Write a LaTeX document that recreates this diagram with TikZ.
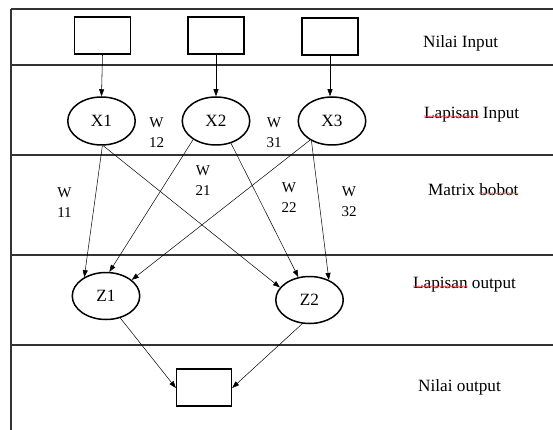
\documentclass[tikz,border=0pt]{standalone}
\usepackage{fontspec}
\setmainfont{Liberation Serif}
\usetikzlibrary{shapes.geometric,arrows.meta,decorations.pathmorphing}
\begin{document}
\begin{tikzpicture}[x=1pt,y=-1pt,
  frameline/.style={draw=black!80,line width=1.2pt},
  valbox/.style={draw,line width=1.3pt,minimum width=56pt,minimum height=37pt,inner sep=0pt},
  neuron/.style={draw,ellipse,line width=1.5pt,minimum width=67.5pt,minimum height=48pt,inner sep=0pt,font=\fontsize{17.2}{19}\selectfont},
  feed/.style={-{Triangle[length=7pt,width=5pt]},line width=0.55pt},
  weight/.style={-{Triangle[length=7pt,width=5pt]},line width=0.5pt},
  layername/.style={anchor=west,inner sep=0pt,font=\fontsize{17.2}{19}\selectfont},
  wlabel/.style={align=center,inner sep=0pt,font=\fontsize{15}{20}\selectfont},
  spell/.style={draw=red!75,line width=0.45pt,decorate,decoration={snake,amplitude=0.7pt,segment length=2.6pt}}]
\useasboundingbox (0,0) rectangle (553,430);

% table lines
\draw[frameline] (11,9) -- (11,430);
\foreach \yy in {9,65,155,255,345}
  \draw[frameline] (11,\yy) -- (553,\yy);

% input values
\node[valbox] (in1) at (102.5,35.5) {};
\node[valbox] (in2) at (216,35.5) {};
\node[valbox] (in3) at (330,36.5) {};

% input layer
\node[neuron] (X1) at (101.5,121) {X1};
\node[neuron] (X2) at (216,121) {X2};
\node[neuron] (X3) at (332,121) {X3};

% output layer
\node[neuron,minimum height=47pt] (Z1) at (106,296) {Z1};
\node[neuron,minimum height=47pt] (Z2) at (309.5,300) {Z2};

% output value
\node[valbox,minimum width=55pt] (out) at (204,387.5) {};

% inputs into the input layer
\draw[feed] (in1.south) -- (X1.north);
\draw[feed] (in2.south) -- (X2.north);
\draw[feed] (in3.south) -- (in3.south |- X3.north);

% weighted connections
\draw[weight] (X1.-88) -- (Z1.139);
\draw[weight] (X1.-86) -- (Z2.157);
\draw[weight] (X2.-141) -- (Z1.82);
\draw[weight] (X2.-56) -- (Z2.116);
\draw[weight] (X3.-139) -- (Z1.32);
\draw[weight] (X3.-136) -- (Z2.46);

% outputs into the output value
\draw[weight] (Z1.-57) -- ([yshift=-0.5pt]out.west);
\draw[weight] (Z2.-107) -- ([yshift=-0.5pt]out.east);

% weight labels
\node[wlabel] (w12) at (156.5,133) {W\\12};
\node[wlabel] (w31) at (274,133) {W\\31};
\node[wlabel] (w21) at (203,181) {W\\21};
\node[wlabel] (w11) at (64.5,203) {W\\11};
\node[wlabel] (w22) at (289,198) {W\\22};
\node[wlabel] (w32) at (349,202) {W\\32};

% layer names
\node[layername] (t1) at (423,43.5) {Nilai Input};
\node[layername] (t2) at (424,115) {Lapisan Input};
\node[layername] (t3) at (428,190) {Matrix bobot};
\node[layername] (t4) at (413,285) {Lapisan output};
\node[layername] (t5) at (418,387) {Nilai output};

% spelling marks
\draw[spell] ([yshift=2.5pt]t2.base west) -- ++(54.5,0);
\draw[spell] ([xshift=51pt,yshift=2.5pt]t3.base west) -- ++(39,0);
\draw[spell] ([yshift=2.5pt]t4.base west) -- ++(54.5,0);
\end{tikzpicture}
\end{document}
